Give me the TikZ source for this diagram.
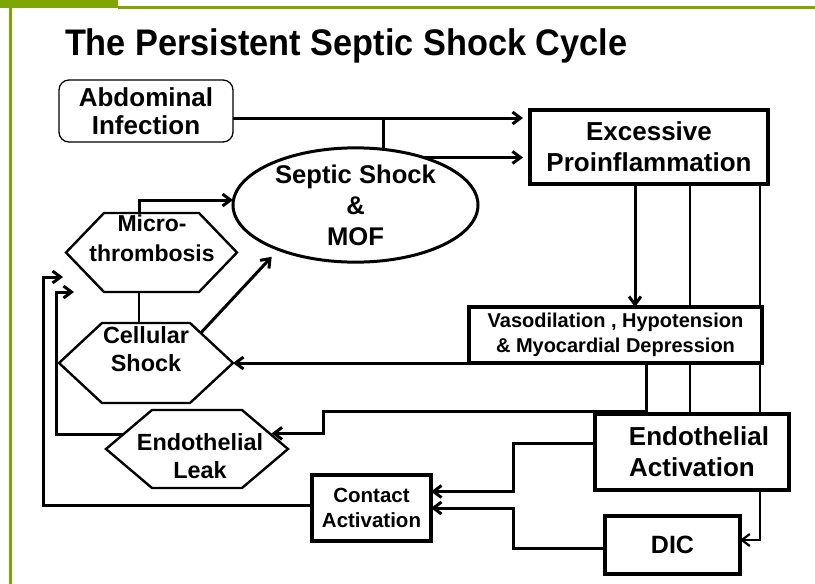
\documentclass[tikz,border=0pt]{standalone}
\usepackage{fontspec}
\setmainfont{Liberation Sans}
\usetikzlibrary{arrows.meta,calc,shapes.geometric}
\pgfdeclarelayer{bg}
\pgfsetlayers{bg,main}
\definecolor{framegreen}{RGB}{125,166,0}
\newcommand\fs[2]{\fontsize{#1}{#2}\selectfont\bfseries}
\tikzset{
  box/.style={draw, line width=3.5pt, fill=white, inner sep=0pt, outer sep=0pt, align=center},
  rbox/.style={draw, line width=1.3pt, rounded corners=10pt, fill=white, inner sep=0pt, outer sep=0pt, align=center},
  hexbox/.style={draw=none, inner sep=0pt, outer sep=0pt},
  hexline/.style={draw, line width=2.4pt, fill=white},
  txt/.style={inner sep=0pt, outer sep=0pt, align=center},
  conn/.style={line width=3pt},
  medconn/.style={line width=2.2pt},
  thinconn/.style={line width=1.7pt},
  arr/.style={-{Straight Barb[length=8pt,width=12pt]}},
}
\newcommand\hexnode[6]{%
  \node[hexbox, minimum width=#4pt, minimum height=#5pt] (#1) at (#2,#3) {};
  \draw[hexline] (#1.west) -- ([xshift=#6pt]#1.north west) -- ([xshift=-#6pt]#1.north east)
    -- (#1.east) -- ([xshift=-#6pt]#1.south east) -- ([xshift=#6pt]#1.south west) -- cycle;}
\begin{document}
\begin{tikzpicture}[x=1pt,y=-1pt]
\useasboundingbox (0,0) rectangle (815,584);
% frame
\fill[framegreen] (0,0) rectangle (118,8);
\fill[framegreen] (118,6) rectangle (815,9);
\fill[framegreen] (9,8) rectangle (12,584);
% title
\node[txt, anchor=base west, font=\fs{37}{44}] (title) at (65,55) {\scalebox{0.927}[1]{The Persistent Septic Shock Cycle}};
% boxes
\node[rbox, minimum width=174pt, minimum height=62pt, font=\fs{26}{28}] (ab) at (146,111) {Abdominal\\Infection};
\node[box, minimum width=238pt, minimum height=74pt, font=\fs{26}{31}] (ep) at (649,147) {Excessive\\Proinflammation};
\node[draw, ellipse, line width=3pt, fill=white, inner sep=0pt, outer sep=0pt, minimum width=245pt, minimum height=110pt, align=center, font=\fs{25.6}{31}] (ss) at (355.5,205) {Septic Shock\\\&\\MOF};
\node[box, minimum width=293pt, minimum height=56pt, font=\fs{20}{25}] (vd) at (615.5,335) {Vasodilation , Hypotension\\\& Myocardial Depression};
\node[box, minimum width=194pt, minimum height=76pt, font=\fs{26}{31}] (ea) at (692,452) {\hspace*{14pt}Endothelial\\Activation};
\node[box, minimum width=119pt, minimum height=66pt, font=\fs{20.5}{25}] (ca) at (371.5,508) {Contact\\Activation};
\node[box, minimum width=135pt, minimum height=58pt, font=\fs{25}{30}] (dic) at (672.5,545) {DIC};
% hexagons
\hexnode{mt}{151.5}{252.5}{171}{79}{38}
\node[txt, font=\fs{23}{30}] (mtt) at (152,238) {Micro-\\thrombosis};
\hexnode{cs}{146}{363}{174}{80}{43}
\node[txt, font=\fs{23.4}{28}] (cst) at (146,349) {Cellular\\Shock};
\hexnode{el}{197}{449}{182}{78}{46}
\node[txt, font=\fs{23.4}{28}] (elt) at (200,456) {Endothelial\\Leak};
% helper coordinates
\coordinate (j1) at (383,118);
\coordinate (k1) at (323,411);
\coordinate (elp) at ($(el.east)!0.4!([xshift=-46pt]el.north east)$);
\coordinate (k2) at (513,491.5);
\coordinate (k3) at (513,508);
\coordinate (k4) at (43,277);
\coordinate (f1) at (63,277);
\coordinate (elq) at ($(el.west)!0.38!([xshift=46pt]el.north west)$);
\coordinate (k5) at (56,292);
\coordinate (f2) at (74,292);
% background connectors (pass behind boxes)
\begin{pgfonlayer}{bg}
\draw[medconn] ([xshift=41pt]ep.south) -- ([xshift=41pt]ep.south |- ea.north);
\draw[medconn, arr] ([xshift=111pt]ep.south) |- ([yshift=5pt]dic.east);
\end{pgfonlayer}
% connectors
\draw[conn, arr, shorten >=7pt] (ab.east |- j1) -- (j1 -| ep.west);
\draw[conn] (j1) -- (j1 |- ss.north);
\draw[conn, arr, shorten >=7pt] (ss.35) -- (ss.35 -| ep.west);
\draw[conn, arr] ([xshift=-12.5pt]mt.north) |- ([yshift=5pt]ss.west);
\draw[thinconn] ([xshift=-12.5pt]mt.south) -- ([xshift=-12.5pt]mt.south |- cs.north);
\draw[conn, arr, shorten >=10pt] ($(cs.east)!0.75!([xshift=-43pt]cs.north east)$) -- (ss.210);
\draw[conn, arr] ([xshift=-14pt]ep.south) -- ([xshift=-14pt]ep.south |- vd.north);
\draw[conn, arr] (vd.south west) -- (cs.east);
\draw[conn, arr, shorten >=2pt] ([xshift=30.5pt]vd.south) |- (k1) |- (elp);
\draw[conn, arr] ([yshift=9pt]ea.west) -| (k2) -- (k2 -| ca.east);
\draw[conn, arr] ([yshift=-3pt]dic.west) -| (k3) -- (k3 -| ca.east);
\draw[conn, arr] ([yshift=3pt]ca.west) -| (k4) -- (f1);
\draw[conn, arr] (elq) -| (k5) -- (f2);
\end{tikzpicture}
\end{document}
